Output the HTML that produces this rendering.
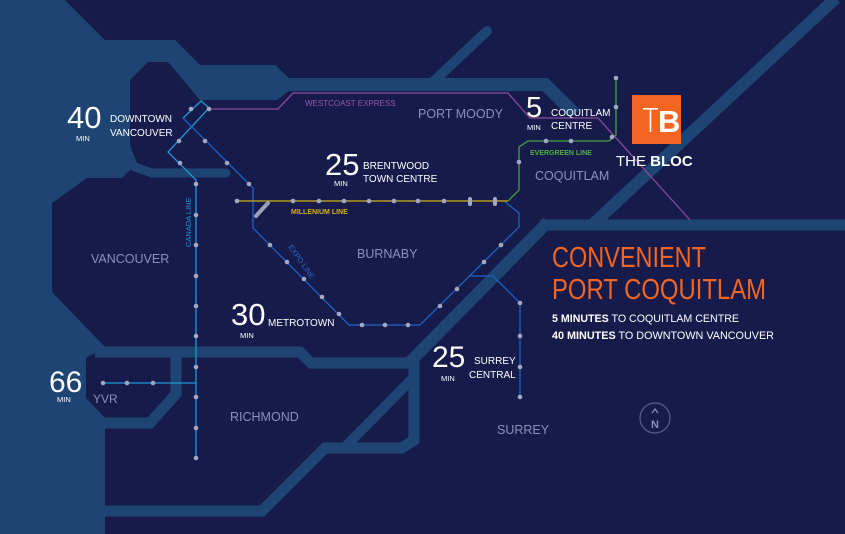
<!DOCTYPE html>
<html><head><meta charset="utf-8"><style>
html,body{margin:0;padding:0;background:#161b4b;}
svg{display:block;font-family:"Liberation Sans",sans-serif;}
</style></head><body>
<svg width="845" height="534" viewBox="0 0 845 534" xmlns="http://www.w3.org/2000/svg">
<rect width="845" height="534" fill="#161b4b"/>
<g fill="#1d4472">
<polygon points="0,0 65,0 105,40 175,40 200,65 275,65 290,79 290,90 277,100 200,100 168,62 148,62 130,80 130,145 137,163 122,178 87,178 52,203 52,292 105,347 86,358 86,398 105,418 105,534 0,534"/>
</g>
<g fill="none" stroke="#1d4472" stroke-linejoin="miter">
<polyline points="280,84.5 545,84.5 575,114" stroke-width="13"/>
<line x1="433" y1="82" x2="487" y2="31" stroke-width="10" stroke-linecap="round"/>
<polyline points="135,167 152,173 226,173" stroke-width="9" stroke-linecap="round"/>
<polyline points="95,352 300,352 311,363 414,363" stroke-width="11"/>
<polyline points="176,356 176,394 150,423 95,423" stroke-width="11"/>
<polyline points="414,355 414,440 402,448 325,448 262,511 100,511" stroke-width="11"/>
<line x1="411" y1="380" x2="346" y2="446" stroke-width="10"/>
<line x1="548" y1="222" x2="410" y2="362" stroke-width="12"/>
<line x1="593" y1="224" x2="836" y2="-2" stroke-width="12"/>
<line x1="540" y1="225" x2="845" y2="225" stroke-width="11"/>
</g>
<g fill="none" stroke-width="1.3">
<polyline points="209,109 278,109 293,93 508,93 530,118 598,118 690,220" stroke="#8b4a9c"/>
<polyline points="183,118 201,101 209,108 168,152 196,180 196,458" stroke="#1e9ad6"/>
<polyline points="103,383 196,383" stroke="#1e9ad6"/>
<polyline points="183,118 253,188 253,228 349,325 420,325 519,227 519,213 505,202" stroke="#2060c4"/>
<polyline points="469,276 493,276 520,303 520,397" stroke="#2060c4"/>
<polyline points="237,201 508,201" stroke="#b39a22" stroke-width="1.6"/>
<polyline points="508,201 519,190 519,147 528,141 609,141 616,135 616,77" stroke="#47a03e"/>
</g>
<line x1="256" y1="216" x2="268" y2="203" stroke="#9aa0b6" stroke-width="4" stroke-linecap="round"/>
<g fill="#a3a9c2">
<circle cx="191" cy="109" r="2.3"/><circle cx="209" cy="109" r="2.3"/>
<circle cx="179" cy="141" r="2.3"/><circle cx="180" cy="163" r="2.3"/>
<circle cx="205" cy="141" r="2.3"/><circle cx="227" cy="163" r="2.3"/><circle cx="249" cy="184" r="2.3"/>
<circle cx="196" cy="184" r="2.3"/><circle cx="196" cy="215" r="2.3"/><circle cx="196" cy="245" r="2.3"/><circle cx="196" cy="276" r="2.3"/><circle cx="196" cy="306" r="2.3"/><circle cx="196" cy="336" r="2.3"/><circle cx="196" cy="367" r="2.3"/><circle cx="196" cy="397" r="2.3"/><circle cx="196" cy="428" r="2.3"/><circle cx="196" cy="458" r="2.3"/>
<circle cx="103" cy="383" r="2.3"/><circle cx="127" cy="383" r="2.3"/><circle cx="153" cy="383" r="2.3"/>
<circle cx="237" cy="201" r="2.3"/><circle cx="293" cy="201" r="2.3"/><circle cx="319" cy="201" r="2.3"/><circle cx="344" cy="201" r="2.3"/><circle cx="369" cy="201" r="2.3"/><circle cx="394" cy="201" r="2.3"/><circle cx="418" cy="201" r="2.3"/><circle cx="444" cy="201" r="2.3"/>
<rect x="468" y="197" width="4" height="9" rx="2"/><rect x="493" y="197" width="4" height="9" rx="2"/>
<circle cx="270" cy="245" r="2.3"/><circle cx="287" cy="262" r="2.3"/><circle cx="304" cy="279" r="2.3"/><circle cx="322" cy="297" r="2.3"/><circle cx="339" cy="314" r="2.3"/>
<circle cx="362" cy="325" r="2.3"/><circle cx="385" cy="325" r="2.3"/><circle cx="408" cy="325" r="2.3"/>
<circle cx="440" cy="306" r="2.3"/><circle cx="457" cy="289" r="2.3"/><circle cx="484" cy="262" r="2.3"/><circle cx="501" cy="245" r="2.3"/>
<circle cx="520" cy="303" r="2.3"/><circle cx="520" cy="336" r="2.3"/><circle cx="520" cy="367" r="2.3"/><circle cx="520" cy="397" r="2.3"/>
<circle cx="519" cy="162" r="2.3"/><circle cx="546" cy="141" r="2.3"/><circle cx="571" cy="141" r="2.3"/><circle cx="612" cy="137" r="2.3"/><circle cx="616" cy="107" r="2.3"/><circle cx="616" cy="78" r="2.3"/>
</g>
<text x="305" y="106" font-size="8" fill="#9a58b0">WESTCOAST EXPRESS</text>
<text x="291" y="214" font-size="7" font-weight="bold" fill="#d4b21c">MILLENIUM LINE</text>
<text x="530" y="155" font-size="7" font-weight="bold" fill="#4fb041">EVERGREEN LINE</text>
<text transform="translate(191,247) rotate(-90)" font-size="7.5" fill="#1e9ad6">CANADA LINE</text>
<text transform="translate(288,247) rotate(55)" font-size="7.5" fill="#2a6ad0">EXPO LINE</text>
<g fill="#8a92b8" font-size="12.5">
<text x="418" y="118">PORT MOODY</text>
<text x="535" y="180">COQUITLAM</text>
<text x="357" y="258">BURNABY</text>
<text x="91" y="263">VANCOUVER</text>
<text x="230" y="421">RICHMOND</text>
<text x="497" y="434">SURREY</text>
<text x="93" y="403" font-size="12">YVR</text>
</g>
<g fill="#ffffff">
<text x="67" y="128" font-size="31">40</text><text x="76" y="141" font-size="7.5">MIN</text>
<text x="110" y="122" font-size="10">DOWNTOWN</text><text x="110" y="136" font-size="10">VANCOUVER</text>
<text x="325" y="175" font-size="31">25</text><text x="334" y="186" font-size="7.5">MIN</text>
<text x="363" y="169" font-size="10">BRENTWOOD</text><text x="363" y="182" font-size="10">TOWN CENTRE</text>
<text x="526" y="117" font-size="29">5</text><text x="527" y="130" font-size="7.5">MIN</text>
<text x="551" y="116" font-size="10">COQUITLAM</text><text x="551" y="129" font-size="10">CENTRE</text>
<text x="231" y="325" font-size="31">30</text><text x="240" y="338" font-size="7.5">MIN</text>
<text x="268" y="326" font-size="10">METROTOWN</text>
<text x="49" y="392" font-size="30">66</text><text x="57" y="402" font-size="7.5">MIN</text>
<text x="432" y="367" font-size="30">25</text><text x="441" y="381" font-size="7.5">MIN</text>
<text x="474" y="364" font-size="10">SURREY</text><text x="469" y="378" font-size="10">CENTRAL</text>
</g>
<rect x="632" y="95" width="49" height="49" fill="#f26522"/>
<rect x="643" y="108" width="15" height="1.6" fill="#fff"/>
<rect x="649.7" y="108" width="1.6" height="24" fill="#fff"/>
<text x="658" y="132" font-size="31" fill="#fff" font-weight="bold">B</text>
<text x="616" y="166" font-size="15" fill="#fff">THE <tspan font-weight="bold">BLOC</tspan></text>
<text x="552" y="267" font-size="29" fill="#f26522" textLength="154" lengthAdjust="spacingAndGlyphs">CONVENIENT</text>
<text x="552" y="299" font-size="29" fill="#f26522" textLength="214" lengthAdjust="spacingAndGlyphs">PORT COQUITLAM</text>
<text x="552" y="322" font-size="11" fill="#fff" textLength="187" lengthAdjust="spacingAndGlyphs"><tspan font-weight="bold">5 MINUTES</tspan> TO COQUITLAM CENTRE</text>
<text x="552" y="339" font-size="11" fill="#fff" textLength="222" lengthAdjust="spacingAndGlyphs"><tspan font-weight="bold">40 MINUTES</tspan> TO DOWNTOWN VANCOUVER</text>
<circle cx="655" cy="418" r="15" fill="none" stroke="#56608e" stroke-width="1.2"/>
<polyline points="652,413 655,409 658,413" fill="none" stroke="#8a92b8" stroke-width="1.2"/>
<text x="655" y="428" font-size="11" font-weight="bold" fill="#8a92b8" text-anchor="middle">N</text>
</svg>
</body></html>
